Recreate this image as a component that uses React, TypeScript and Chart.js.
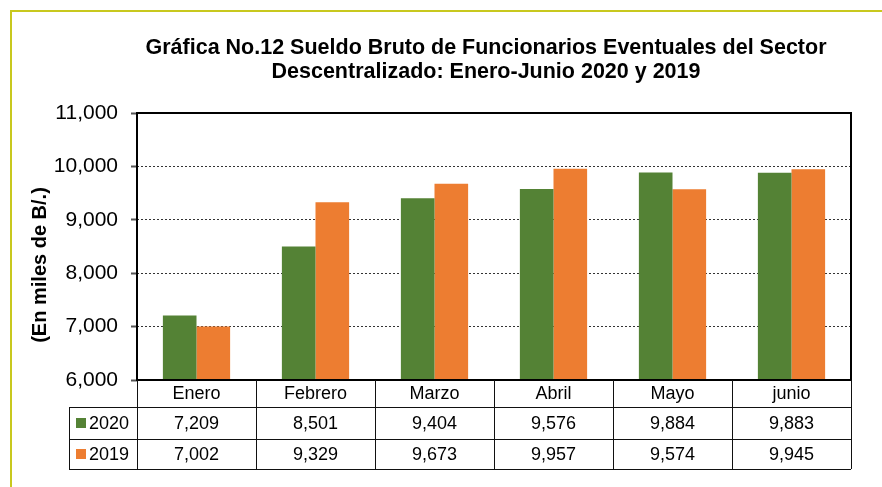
import React, { useEffect, useRef } from "react";
import { Chart, registerables } from "chart.js";

Chart.register(...registerables);

const titleLines = [
  "Gráfica No.12 Sueldo Bruto de Funcionarios Eventuales del Sector",
  "Descentralizado: Enero-Junio 2020 y 2019",
];
const yAxisTitle = "(En miles de B/.)";
const months = ["Enero", "Febrero", "Marzo", "Abril", "Mayo", "junio"];
const series2020 = [7209, 8501, 9404, 9576, 9884, 9883];
const series2019 = [7002, 9329, 9673, 9957, 9574, 9945];
const seriesNames = ["2020", "2019"];
const seriesColors = ["#548235", "#ED7D31"];
const yMin = 6000;
const yMax = 11000;
const yStep = 1000;

const FONT = "'Liberation Sans', Arial, sans-serif";
const fmt = (v: number) => v.toLocaleString("en-US");

const decorPlugin = {
  id: "decor",
  afterDraw(chart: any) {
    const { ctx, chartArea: ca, scales } = chart;
    const x = scales.x;
    const n = months.length;
    const w = (ca.right - ca.left) / n;
    ctx.save();

    // outer frame (top + left)
    ctx.strokeStyle = "#c8c81e";
    ctx.lineWidth = 2;
    ctx.beginPath();
    ctx.moveTo(11, chart.height);
    ctx.lineTo(11, 11);
    ctx.lineTo(chart.width, 11);
    ctx.stroke();

    // title
    ctx.fillStyle = "#000";
    ctx.font = `bold 21.5px ${FONT}`;
    ctx.textAlign = "center";
    ctx.textBaseline = "alphabetic";
    ctx.fillText(titleLines[0], 486, 54);
    ctx.fillText(titleLines[1], 486, 78);

    // y-axis title
    ctx.save();
    ctx.translate(40, 265);
    ctx.rotate(-Math.PI / 2);
    ctx.font = `bold 20px ${FONT}`;
    ctx.textBaseline = "middle";
    ctx.fillText(yAxisTitle, 0, 0);
    ctx.restore();

    // plot frame
    ctx.strokeStyle = "#000";
    ctx.lineWidth = 2;
    ctx.strokeRect(ca.left, ca.top, ca.right - ca.left, ca.bottom - ca.top);

    // data table
    const rows = [ca.bottom, ca.bottom + 27, ca.bottom + 58.5, ca.bottom + 89];
    const legLeft = 69;
    const px = (v: number) => Math.round(v) + 0.5;
    ctx.lineWidth = 1;
    ctx.strokeStyle = "#111";
    ctx.beginPath();
    for (let r = 1; r < rows.length; r++) {
      ctx.moveTo(legLeft, px(rows[r]));
      ctx.lineTo(ca.right, px(rows[r]));
    }
    ctx.moveTo(px(legLeft), rows[1]);
    ctx.lineTo(px(legLeft), rows[3]);
    for (let i = 0; i <= n; i++) {
      const xb = ca.left + i * w;
      ctx.moveTo(px(xb), rows[0]);
      ctx.lineTo(px(xb), rows[3]);
    }
    ctx.stroke();

    ctx.font = `18px ${FONT}`;
    ctx.textAlign = "center";
    ctx.textBaseline = "middle";
    ctx.fillStyle = "#000";
    const all = [series2020, series2019];
    for (let i = 0; i < n; i++) {
      const cx = x.getPixelForValue(i);
      ctx.fillText(months[i], cx, (rows[0] + rows[1]) / 2 + 1);
      for (let s = 0; s < all.length; s++) {
        ctx.fillText(fmt(all[s][i]), cx, (rows[s + 1] + rows[s + 2]) / 2 + 1);
      }
    }
    // legend keys
    ctx.textAlign = "left";
    for (let s = 0; s < seriesNames.length; s++) {
      const cy = (rows[s + 1] + rows[s + 2]) / 2;
      ctx.fillStyle = seriesColors[s];
      ctx.fillRect(76, Math.round(cy - 5), 10, 10);
      ctx.fillStyle = "#000";
      ctx.fillText(seriesNames[s], 89, cy + 1);
    }
    ctx.restore();
  },
};

export default function App() {
  const ref = useRef<HTMLCanvasElement | null>(null);
  useEffect(() => {
    if (!ref.current) return;
    const chart = new Chart(ref.current, {
      type: "bar",
      data: {
        labels: months,
        datasets: [
          {
            label: seriesNames[0],
            data: series2020,
            backgroundColor: seriesColors[0],
            categoryPercentage: 0.565,
            barPercentage: 1,
          },
          {
            label: seriesNames[1],
            data: series2019,
            backgroundColor: seriesColors[1],
            categoryPercentage: 0.565,
            barPercentage: 1,
          },
        ],
      },
      options: {
        responsive: false,
        animation: false,
        devicePixelRatio: 1,
        layout: { padding: { left: 0, top: 113, right: 31, bottom: 107 } },
        plugins: {
          legend: { display: false },
          title: { display: false },
          tooltip: { enabled: false },
        },
        scales: {
          x: { display: false },
          y: {
            min: yMin,
            max: yMax,
            afterFit: (axis: any) => {
              axis.width = 137;
            },
            border: { display: false, dash: [2, 2] },
            grid: {
              color: "#333",
              lineWidth: 1,
              drawTicks: true,
              tickLength: 6,
              tickColor: "#555",
              tickWidth: 2,
              tickBorderDash: [],
            },
            ticks: {
              stepSize: yStep,
              padding: 13,
              color: "#000",
              font: { family: FONT, size: 21 },
              callback: (v: any) => fmt(Number(v)),
            },
          },
        },
      },
      plugins: [decorPlugin],
    });
    return () => chart.destroy();
  }, []);
  return (
    <div style={{ position: "absolute", left: 0, top: 0, width: 882, height: 487, background: "#fff" }}>
      <canvas ref={ref} width={882} height={487} />
    </div>
  );
}
